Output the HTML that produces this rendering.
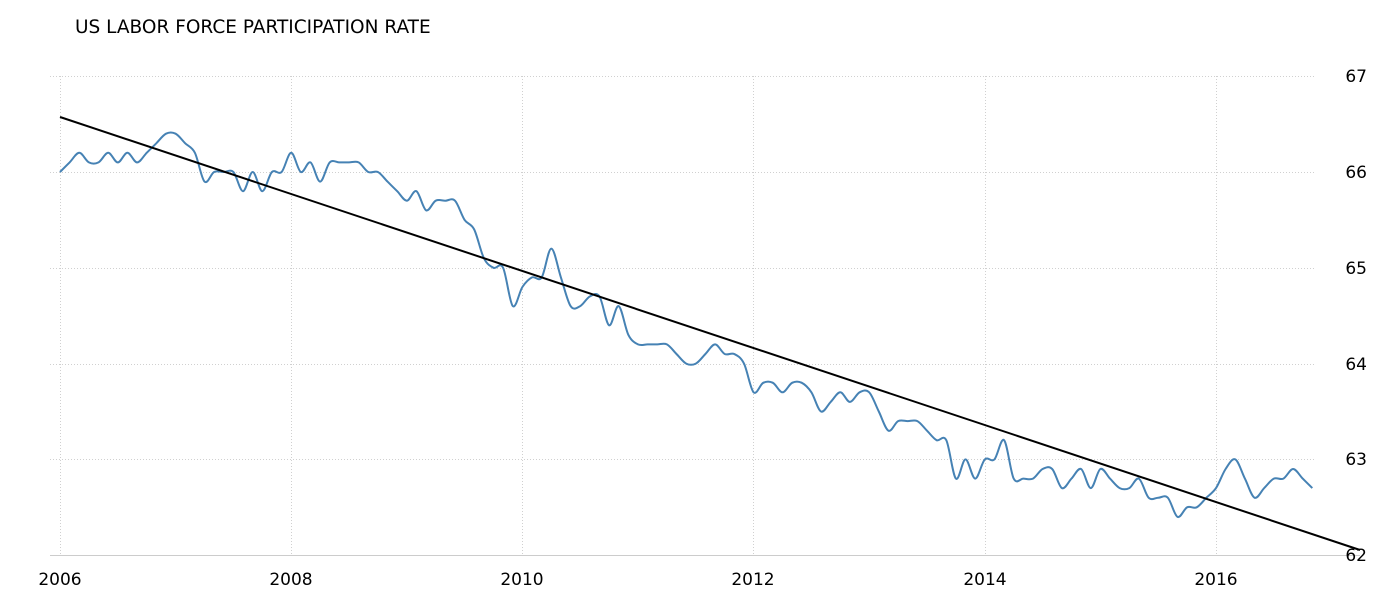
<!DOCTYPE html>
<html><head><meta charset="utf-8"><style>
html,body{margin:0;padding:0;background:#fff;width:1376px;height:610px;overflow:hidden}
svg text{font-family:"DejaVu Sans","Liberation Sans",sans-serif;fill:#000}
</style></head><body>
<svg id="s" width="1376" height="610" xmlns="http://www.w3.org/2000/svg">
<text x="75" y="33" font-size="18.5">US LABOR FORCE PARTICIPATION RATE</text>
<g stroke="#d0d0d0" stroke-width="1" stroke-dasharray="1,2" fill="none">
<line x1="50" y1="76.5" x2="1315" y2="76.5"/>
<line x1="50" y1="172.5" x2="1315" y2="172.5"/>
<line x1="50" y1="268.5" x2="1315" y2="268.5"/>
<line x1="50" y1="364.5" x2="1315" y2="364.5"/>
<line x1="50" y1="459.5" x2="1315" y2="459.5"/>
<line x1="60.5" y1="76" x2="60.5" y2="555"/>
<line x1="291.5" y1="76" x2="291.5" y2="555"/>
<line x1="522.5" y1="76" x2="522.5" y2="555"/>
<line x1="753.5" y1="76" x2="753.5" y2="555"/>
<line x1="985.5" y1="76" x2="985.5" y2="555"/>
<line x1="1216.5" y1="76" x2="1216.5" y2="555"/>
</g>
<line x1="50" y1="555.5" x2="1360" y2="555.5" stroke="#ccc"/>
<g font-size="17" text-anchor="end">
<text x="1367" y="82">67</text><text x="1367" y="178">66</text><text x="1367" y="274">65</text>
<text x="1367" y="370">64</text><text x="1367" y="465">63</text><text x="1367" y="561">62</text>
</g>
<g font-size="17" text-anchor="middle">
<text x="60" y="585">2006</text><text x="291" y="585">2008</text><text x="522" y="585">2010</text>
<text x="753" y="585">2012</text><text x="985" y="585">2014</text><text x="1216" y="585">2016</text>
</g>
<path id="p" fill="none" stroke="#4682b4" stroke-width="2"/>
<line x1="60" y1="117" x2="1360" y2="550" stroke="#000" stroke-width="2"/>
</svg>
<script>
var d=[66.0,66.1,66.2,66.1,66.1,66.2,66.1,66.2,66.1,66.2,66.3,66.4,
66.4,66.3,66.2,65.9,66.0,66.0,66.0,65.8,66.0,65.8,66.0,66.0,
66.2,66.0,66.1,65.9,66.1,66.1,66.1,66.1,66.0,66.0,65.9,65.8,
65.7,65.8,65.6,65.7,65.7,65.7,65.5,65.4,65.1,65.0,65.0,64.6,
64.8,64.9,64.9,65.2,64.9,64.6,64.6,64.7,64.7,64.4,64.6,64.3,
64.2,64.2,64.2,64.2,64.1,64.0,64.0,64.1,64.2,64.1,64.1,64.0,
63.7,63.8,63.8,63.7,63.8,63.8,63.7,63.5,63.6,63.7,63.6,63.7,
63.7,63.5,63.3,63.4,63.4,63.4,63.3,63.2,63.2,62.8,63.0,62.8,
63.0,63.0,63.2,62.8,62.8,62.8,62.9,62.9,62.7,62.8,62.9,62.7,
62.9,62.8,62.7,62.7,62.8,62.6,62.6,62.6,62.4,62.5,62.5,62.6,
62.7,62.9,63.0,62.8,62.6,62.7,62.8,62.8,62.9,62.8,62.7];
var P=d.map(function(v,i){return [60+i*115.6/12,172+(66-v)*95.8];});
var s="M"+P[0][0].toFixed(1)+","+P[0][1].toFixed(1);
for(var i=0;i<P.length-1;i++){
var p0=P[Math.max(i-1,0)],p1=P[i],p2=P[i+1],p3=P[Math.min(i+2,P.length-1)],t=6;
s+="C"+(p1[0]+(p2[0]-p0[0])/t).toFixed(1)+","+(p1[1]+(p2[1]-p0[1])/t).toFixed(1)+" "+
(p2[0]-(p3[0]-p1[0])/t).toFixed(1)+","+(p2[1]-(p3[1]-p1[1])/t).toFixed(1)+" "+p2[0].toFixed(1)+","+p2[1].toFixed(1);}
document.getElementById("p").setAttribute("d",s);
</script>
</body></html>
